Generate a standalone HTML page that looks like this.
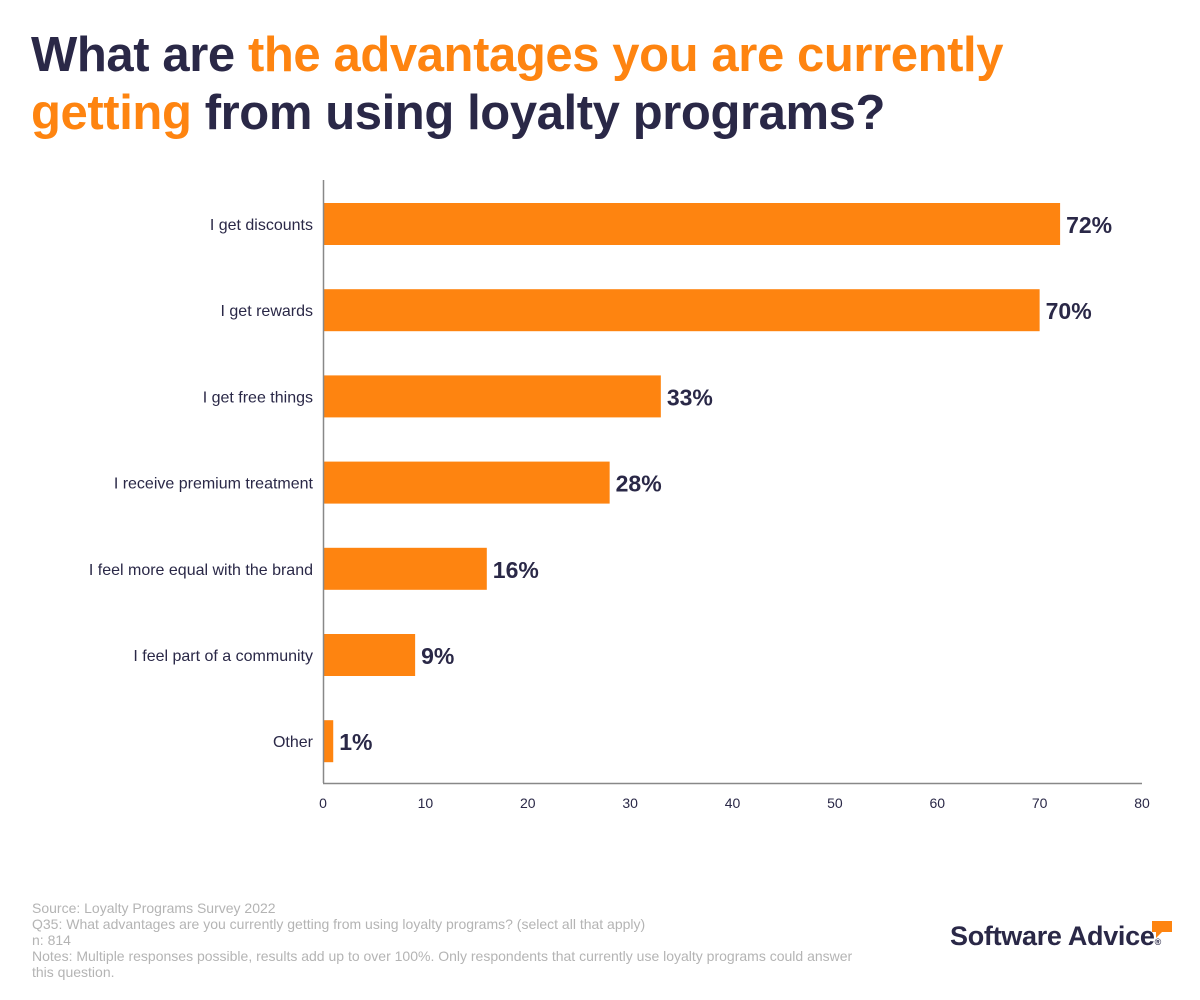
<!DOCTYPE html>
<html><head><meta charset="utf-8"><style>
body{margin:0;width:1200px;height:1000px;background:#fff;font-family:"Liberation Sans",sans-serif;overflow:hidden;position:relative}
.title{position:absolute;left:31px;top:26px;font-size:49px;font-weight:bold;line-height:58px;color:#2a2847;letter-spacing:-0.4px}
.o{color:#fe8410}
.foot{position:absolute;left:32px;top:900px;font-size:14px;line-height:16px;color:#b4b4b4;width:835px}
.logo{position:absolute;left:950px;top:921px;font-size:27px;font-weight:bold;color:#2a2847;letter-spacing:-0.3px}
</style></head><body>
<div class="title">What are <span class="o">the advantages you are currently<br>getting</span> from using loyalty programs?</div>
<svg id="chart" width="1200" height="1000" style="position:absolute;left:0;top:0"></svg>
<div class="foot">Source: Loyalty Programs Survey 2022<br>Q35: What advantages are you currently getting from using loyalty programs? (select all that apply)<br>n: 814<br>Notes: Multiple responses possible, results add up to over 100%. Only respondents that currently use loyalty programs could answer this question.</div>
<div class="logo">Software Advice<span style="font-size:9px">®</span><svg width="22" height="22" style="position:absolute;left:202px;top:0px"><path d="M0 0H20V11H10L4 17V11H0Z" fill="#fe8410"/></svg></div>
<script>
const categories=["I get discounts","I get rewards","I get free things","I receive premium treatment","I feel more equal with the brand","I feel part of a community","Other"];
const values=[72,70,33,28,16,9,1];
const ticks=[0,10,20,30,40,50,60,70,80];
const svg=document.getElementById('chart');const NS="http://www.w3.org/2000/svg";
const x=v=>323+v*(1142-323)/80;
const yc=i=>224+i*86.2;
function mk(t,a){const e=document.createElementNS(NS,t);for(const k in a)e.setAttribute(k,a[k]);svg.appendChild(e);return e;}
categories.forEach((c,i)=>{
const r=mk('rect',{x:x(0),y:yc(i)-21,width:x(values[i])-x(0),height:42,fill:'#fe8410'});


const l=mk('text',{x:313,y:yc(i)+6,'text-anchor':'end','font-size':16,fill:'#2a2847'});l.textContent=c;


const v=mk('text',{x:x(values[i])+6,y:yc(i)+9,'font-size':23,'font-weight':'bold',fill:'#2a2847'});v.textContent=values[i]+'%';


});
ticks.forEach(t=>{const e=mk('text',{x:x(t),y:808,'text-anchor':'middle','font-size':14,fill:'#2a2847'});e.textContent=t;

});
const ya=mk('line',{x1:323.5,y1:180,x2:323.5,y2:783,stroke:'#888','stroke-width':1.5});


const xa=mk('line',{x1:323,y1:783.5,x2:1142,y2:783.5,stroke:'#888','stroke-width':1.5});


</script>
</body></html>
